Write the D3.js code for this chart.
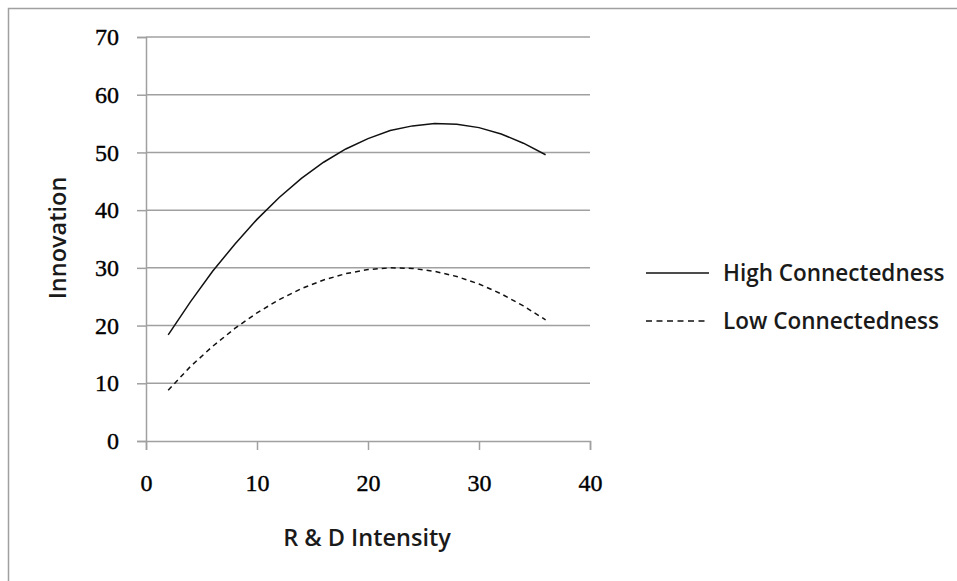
<!DOCTYPE html>
<html>
<head>
<meta charset="utf-8">
<script src="https://cdn.jsdelivr.net/npm/d3@7"></script>
<style>
  body { margin: 0; background: #fff; }
  svg { display: block; }
</style>
</head>
<body>
<div id="chart"></div>
<script>
// R & D intensity at which each series was read
var xValues = [2, 4, 6, 8, 10, 12, 14, 16, 18, 20, 22, 24, 26, 28, 30, 32, 34, 36];
var highValues = [18.4, 24.1, 29.4, 34.1, 38.4, 42.2, 45.5, 48.3, 50.6, 52.4, 53.8, 54.6, 55.0, 54.9, 54.3, 53.2, 51.6, 49.6];
var lowValues = [8.8, 12.9, 16.4, 19.5, 22.2, 24.5, 26.4, 27.9, 29.0, 29.7, 30.0, 29.9, 29.4, 28.5, 27.2, 25.5, 23.4, 21.0];
var seriesNames = ["High Connectedness", "Low Connectedness"];
var xTicks = [0, 10, 20, 30, 40];
var yTicks = [0, 10, 20, 30, 40, 50, 60, 70];

var width = 957, height = 581;
var plot = {left: 146, right: 590, top: 37, bottom: 441};

document.addEventListener('DOMContentLoaded', function () {
    var svg = d3.select("#chart").append("svg")
        .attr("width", width)
        .attr("height", height);

    // outer frame (runs off the right and bottom)
    svg.append("rect")
        .attr("x", 8.5).attr("y", 8.5)
        .attr("width", width + 20).attr("height", height + 20)
        .attr("fill", "none")
        .attr("stroke", "#a0a0a0")
        .attr("stroke-width", 1.5);

    var x = d3.scaleLinear().domain([0, 40]).range([plot.left, plot.right]);
    var y = d3.scaleLinear().domain([0, 70]).range([plot.bottom, plot.top]);

    // horizontal gridlines
    svg.append("g").selectAll("line")
        .data(yTicks.filter(d => d > 0))
        .enter().append("line")
        .attr("x1", plot.left).attr("x2", plot.right)
        .attr("y1", d => y(d)).attr("y2", d => y(d))
        .attr("stroke", "#a0a0a0")
        .attr("stroke-width", 1.5);

    // y axis
    var yAxis = svg.append("g")
        .attr("transform", "translate(" + plot.left + ",0)")
        .call(d3.axisLeft(y).tickValues(yTicks).tickSize(9).tickPadding(18));
    // x axis
    var xAxis = svg.append("g")
        .attr("transform", "translate(0," + plot.bottom + ")")
        .call(d3.axisBottom(x).tickValues(xTicks).tickSize(9).tickPadding(24));

    [xAxis, yAxis].forEach(function (a) {
        a.select(".domain").attr("stroke", "#a0a0a0").attr("stroke-width", 1.5);
        a.selectAll(".tick line").attr("stroke", "#a0a0a0").attr("stroke-width", 1.5);
        a.selectAll(".tick text")
            .attr("fill", "#000")
            .attr("stroke", "#000")
            .attr("stroke-width", 0.4)
            .style("font-family", "'Liberation Serif', 'DejaVu Serif', serif")
            .style("font-size", "24px");
    });

    // series lines
    var line = d3.line()
        .x((d, i) => x(xValues[i]))
        .y(d => y(d));

    svg.append("path")
        .attr("d", line(highValues))
        .attr("fill", "none")
        .attr("stroke", "#111")
        .attr("stroke-width", 1.5);

    svg.append("path")
        .attr("d", line(lowValues))
        .attr("fill", "none")
        .attr("stroke", "#111")
        .attr("stroke-width", 1.5)
        .attr("stroke-dasharray", "5,4");

    // axis titles
    svg.append("text")
        .text("R & D Intensity")
        .attr("x", 367)
        .attr("y", 546)
        .style("text-anchor", "middle")
        .style("font-family", "'Open Sans', sans-serif")
        .style("font-weight", "600")
        .style("font-size", "23.5px")
        .attr("fill", "#1a1a1a");

    svg.append("text")
        .text("Innovation")
        .attr("transform", "translate(66,238) rotate(-90)")
        .style("text-anchor", "middle")
        .style("font-family", "'Open Sans', sans-serif")
        .style("font-weight", "600")
        .style("font-size", "23.5px")
        .attr("fill", "#1a1a1a");

    // legend
    var legend = svg.append("g");
    seriesNames.forEach(function (name, i) {
        var ly = 273 + i * 48;
        legend.append("line")
            .attr("x1", 646).attr("x2", 709)
            .attr("y1", ly).attr("y2", ly)
            .attr("stroke", "#111")
            .attr("stroke-width", 1.5)
            .attr("stroke-dasharray", i == 1 ? "6,4.5" : null);
        legend.append("text")
            .text(name)
            .attr("x", 723)
            .attr("y", ly + 8)
            .style("font-family", "'Open Sans', sans-serif")
            .style("font-weight", "600")
            .style("font-size", "22.5px")
            .attr("fill", "#1a1a1a");
    });
});
</script>
</body>
</html>
